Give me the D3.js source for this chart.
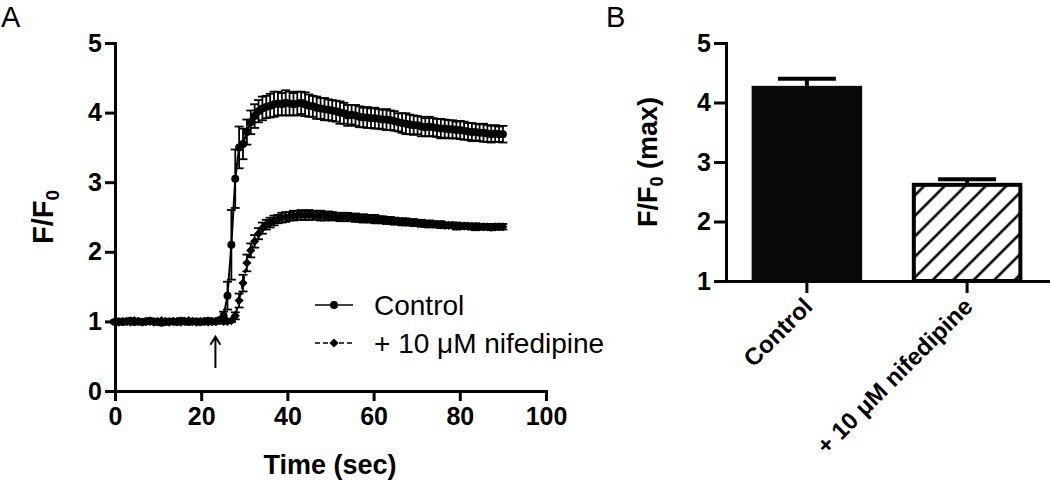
<!DOCTYPE html>
<html>
<head>
<meta charset="utf-8">
<script src="https://cdn.jsdelivr.net/npm/d3@7"></script>
<style>
  body { margin: 0; background: #fff; }
  text { font-family: "Liberation Sans", Arial, Helvetica, sans-serif; fill: #000; }
</style>
</head>
<body>
<svg id="fig" width="1050" height="484"></svg>
<script>
//------------------- Données (panneau A : cinétique F/F0) -------------------

var sampleStep = 0.9; // secondes entre deux images

var controlMean = [
  0.99, 1.00, 0.99, 1.00, 1.01, 0.99, 1.00, 0.99, 1.00, 1.01, 1.00, 0.99, 0.98, 0.99,
  1.00, 1.00, 0.99, 1.01, 1.00, 0.99, 1.00, 1.00, 0.99, 1.00, 1.01, 1.00, 1.00,
  1.02, 1.08, 1.37, 2.10, 3.05, 3.50, 3.55, 3.72, 3.86, 3.95,
  4.02, 4.06, 4.08, 4.10, 4.12, 4.13, 4.12, 4.14, 4.13, 4.12,
  4.13, 4.14, 4.12, 4.10, 4.09, 4.07, 4.06, 4.05, 4.04, 4.03,
  4.02, 4.00, 3.99, 3.96, 3.97, 3.96, 3.94, 3.93, 3.93, 3.92,
  3.92, 3.91, 3.90, 3.90, 3.89, 3.88, 3.86, 3.85, 3.84, 3.83,
  3.82, 3.82, 3.80, 3.79, 3.80, 3.79, 3.78, 3.77, 3.77, 3.76,
  3.76, 3.75, 3.75, 3.74, 3.73, 3.72, 3.72, 3.71, 3.71, 3.70,
  3.69, 3.70, 3.69, 3.69
];
var controlSem = [
  0.02, 0.02, 0.02, 0.03, 0.02, 0.02, 0.02, 0.02, 0.03, 0.02, 0.02, 0.02, 0.03, 0.02,
  0.02, 0.02, 0.02, 0.03, 0.02, 0.02, 0.02, 0.02, 0.02, 0.03, 0.02, 0.02, 0.02,
  0.03, 0.06, 0.20, 0.50, 0.42, 0.30, 0.22, 0.18, 0.17, 0.17,
  0.16, 0.17, 0.16, 0.17, 0.18, 0.17, 0.16, 0.18, 0.17, 0.16,
  0.17, 0.16, 0.17, 0.16, 0.15, 0.16, 0.15, 0.16, 0.15, 0.15,
  0.15, 0.16, 0.15, 0.15, 0.14, 0.15, 0.15, 0.14, 0.15, 0.14,
  0.15, 0.14, 0.14, 0.15, 0.14, 0.14, 0.13, 0.14, 0.15, 0.14,
  0.14, 0.13, 0.14, 0.13, 0.14, 0.13, 0.13, 0.14, 0.13, 0.13,
  0.13, 0.12, 0.13, 0.13, 0.12, 0.13, 0.12, 0.12, 0.13, 0.12,
  0.12, 0.12, 0.11, 0.12
];
var nifMean = [
  1.00, 0.99, 1.00, 1.00, 0.99, 1.01, 1.00, 0.99, 1.00, 1.00, 0.99, 1.00, 1.01, 1.00, 0.99,
  1.00, 1.00, 0.99, 1.00, 1.01, 1.00, 0.99, 1.00, 1.00, 0.99, 1.00, 1.00, 1.01, 1.00, 1.00,
  1.01, 1.08, 1.30, 1.55, 1.84, 2.02, 2.15, 2.26, 2.34, 2.39,
  2.42, 2.45, 2.47, 2.49, 2.50, 2.51, 2.52, 2.52, 2.53, 2.52,
  2.53, 2.52, 2.53, 2.52, 2.51, 2.52, 2.51, 2.51, 2.50, 2.50,
  2.50, 2.49, 2.49, 2.48, 2.48, 2.48, 2.47, 2.47, 2.46, 2.46,
  2.45, 2.45, 2.44, 2.44, 2.43, 2.43, 2.42, 2.42, 2.41, 2.41,
  2.40, 2.40, 2.40, 2.39, 2.39, 2.38, 2.38, 2.38, 2.37, 2.37,
  2.37, 2.37, 2.36, 2.36, 2.36, 2.36, 2.36, 2.35, 2.36, 2.36, 2.36
];
var nifSem = [
  0.02, 0.02, 0.02, 0.02, 0.03, 0.02, 0.02, 0.02, 0.02, 0.02, 0.03, 0.02, 0.02, 0.02, 0.02,
  0.02, 0.03, 0.02, 0.02, 0.02, 0.02, 0.02, 0.03, 0.02, 0.02, 0.02, 0.02, 0.02, 0.03, 0.02,
  0.02, 0.05, 0.10, 0.12, 0.12, 0.10, 0.09, 0.08, 0.08, 0.07,
  0.07, 0.07, 0.06, 0.07, 0.07, 0.06, 0.07, 0.06, 0.07, 0.06,
  0.07, 0.06, 0.06, 0.07, 0.06, 0.06, 0.06, 0.05, 0.06, 0.06,
  0.06, 0.05, 0.06, 0.05, 0.06, 0.05, 0.05, 0.06, 0.05, 0.05,
  0.05, 0.05, 0.05, 0.04, 0.05, 0.05, 0.04, 0.05, 0.04, 0.05,
  0.04, 0.05, 0.04, 0.04, 0.05, 0.04, 0.04, 0.04, 0.05, 0.04,
  0.04, 0.04, 0.04, 0.05, 0.04, 0.04, 0.04, 0.04, 0.04, 0.04, 0.04
];

var seriesNames = ["Control", "+ 10 \u03bcM nifedipine"];
var timeTicks = [0, 20, 40, 60, 80, 100];
var ratioTicksA = [0, 1, 2, 3, 4, 5];
var stimulusTime = 23.3; // flèche d'ajout

//------------------- Données (panneau B : maximum) -------------------

var barGroups = ["Control", "+ 10 \u03bcM nifedipine"];
var barMeans = [4.28, 2.65];
var barSems = [0.12, 0.06];
var ratioTicksB = [1, 2, 3, 4, 5];

//------------------- Mise en place -------------------

var svg = d3.select("#fig");
svg.append("rect").attr("width", 1050).attr("height", 484).attr("fill", "#fff");

function styleAxis(g) {
    g.select(".domain").attr("stroke-width", 3).attr("stroke-linecap", "square");
    g.selectAll(".tick line").attr("stroke-width", 3);
    g.selectAll(".tick text")
        .attr("font-size", 25)
        .attr("font-weight", "bold")
        .attr("font-family", "'Liberation Sans', Arial, sans-serif");
}

// lettres de panneau
svg.append("text").attr("x", 1).attr("y", 27).attr("font-size", 29).text("A");
svg.append("text").attr("x", 606).attr("y", 27).attr("font-size", 29).text("B");

//------------------- Panneau A -------------------

var xA = d3.scaleLinear().domain([0, 100]).range([115, 546]);
var yA = d3.scaleLinear().domain([0, 5]).range([391, 43]);

var times = controlMean.map(function(d, i) { return i * sampleStep; });

var series = [
    { name: seriesNames[0], mean: controlMean, sem: controlSem, marker: "circle", dash: null },
    { name: seriesNames[1], mean: nifMean, sem: nifSem, marker: "diamond", dash: "5,3" }
];

var gA = svg.append("g");

function markerPath(type) {
    if (type == "circle") return d3.symbol(d3.symbolCircle, 50)();
    return d3.symbol(d3.symbolSquare, 42)();
}

series.forEach(function(s) {
    var pts = s.mean.map(function(m, i) { return { t: times[i], m: m, e: s.sem[i] }; });

    var line = d3.line().x(function(d) { return xA(d.t); }).y(function(d) { return yA(d.m); });
    gA.append("path")
        .datum(pts)
        .attr("d", line)
        .attr("fill", "none")
        .attr("stroke", "#000")
        .attr("stroke-width", 2)
        .attr("stroke-dasharray", s.dash);

    // barres d'erreur (SEM)
    var eb = gA.append("g").attr("stroke", "#000").attr("stroke-width", 1.8);
    pts.forEach(function(d) {
        var x = xA(d.t), y1 = yA(d.m - d.e), y2 = yA(d.m + d.e);
        eb.append("line").attr("x1", x).attr("x2", x).attr("y1", y1).attr("y2", y2);
        eb.append("line").attr("x1", x - 4.5).attr("x2", x + 4.5).attr("y1", y1).attr("y2", y1);
        eb.append("line").attr("x1", x - 4.5).attr("x2", x + 4.5).attr("y1", y2).attr("y2", y2);
    });

    gA.append("g").selectAll("path")
        .data(pts)
        .join("path")
        .attr("d", markerPath(s.marker))
        .attr("transform", function(d) {
            return "translate(" + xA(d.t) + "," + yA(d.m) + ")" + (s.marker == "diamond" ? " rotate(45)" : "");
        })
        .attr("fill", "#000");
});

// axes
svg.append("g")
    .attr("transform", "translate(0," + yA(0) + ")")
    .call(d3.axisBottom(xA).tickValues(timeTicks).tickFormat(d3.format("d")).tickSize(10).tickSizeOuter(0).tickPadding(6))
    .call(styleAxis);

svg.append("g")
    .attr("transform", "translate(" + xA(0) + ",0)")
    .call(d3.axisLeft(yA).tickValues(ratioTicksA).tickFormat(d3.format("d")).tickSize(10).tickSizeOuter(0).tickPadding(3))
    .call(styleAxis);

svg.append("text")
    .attr("x", 330).attr("y", 474)
    .attr("text-anchor", "middle")
    .attr("font-size", 27).attr("font-weight", "bold")
    .text("Time (sec)");

var labA = svg.append("text")
    .attr("transform", "translate(53,217) rotate(-90)")
    .attr("text-anchor", "middle")
    .attr("font-size", 29).attr("font-weight", "bold");
labA.append("tspan").text("F/F");
labA.append("tspan").attr("font-size", 19).attr("dy", 6).text("0");

// flèche (ajout du stimulus)
var ax = xA(stimulusTime);
svg.append("path")
    .attr("d", "M" + ax + "," + yA(0.33) + "V" + yA(0.78) +
        "M" + (ax - 5) + "," + (yA(0.78) + 8) + "L" + ax + "," + yA(0.78) + "L" + (ax + 5) + "," + (yA(0.78) + 8))
    .attr("fill", "none")
    .attr("stroke", "#000")
    .attr("stroke-width", 2);

// légende
var leg = svg.append("g");
series.forEach(function(s, i) {
    var ly = 305 + i * 38;
    leg.append("line")
        .attr("x1", 315).attr("x2", 353).attr("y1", ly).attr("y2", ly)
        .attr("stroke", "#000").attr("stroke-width", 1.5)
        .attr("stroke-dasharray", s.dash);
    leg.append("path")
        .attr("d", markerPath(s.marker))
        .attr("transform", "translate(334," + ly + ")" + (s.marker == "diamond" ? " rotate(45)" : ""))
        .attr("fill", "#000");
    leg.append("text")
        .attr("x", 374).attr("y", ly + 10)
        .attr("font-size", 28)
        .text(s.name);
});

//------------------- Panneau B -------------------

var xB = d3.scaleBand().domain(barGroups).range([726, 1048]).paddingInner(0.31).paddingOuter(0.16);
var yB = d3.scaleLinear().domain([1, 5]).range([281, 43]);

var defs = svg.append("defs");
defs.append("pattern")
    .attr("id", "hachures")
    .attr("patternUnits", "userSpaceOnUse")
    .attr("width", 14.5).attr("height", 14.5)
    .attr("patternTransform", "rotate(45)")
    .append("line")
    .attr("x1", 2).attr("x2", 2).attr("y1", 0).attr("y2", 14.5)
    .attr("stroke", "#000").attr("stroke-width", 2.6);

var gB = svg.append("g");
var bars = barGroups.map(function(g, i) { return { g: g, m: barMeans[i], e: barSems[i], i: i }; });

// barres d'erreur (vers le haut seulement)
bars.forEach(function(d) {
    var cx = xB(d.g) + xB.bandwidth() / 2;
    gB.append("line")
        .attr("x1", cx).attr("x2", cx).attr("y1", yB(d.m)).attr("y2", yB(d.m + d.e))
        .attr("stroke", "#000").attr("stroke-width", 4);
    gB.append("line")
        .attr("x1", cx - 29).attr("x2", cx + 29).attr("y1", yB(d.m + d.e)).attr("y2", yB(d.m + d.e))
        .attr("stroke", "#000").attr("stroke-width", 4);
});

bars.forEach(function(d) {
    if (d.i == 0) {
        gB.append("rect")
            .attr("x", xB(d.g)).attr("width", xB.bandwidth())
            .attr("y", yB(d.m)).attr("height", yB(1) - yB(d.m))
            .attr("fill", "#0a0a0a");
    } else {
        gB.append("rect")
            .attr("x", xB(d.g) + 2).attr("width", xB.bandwidth() - 4)
            .attr("y", yB(d.m) + 2).attr("height", yB(1) - yB(d.m) - 2)
            .attr("fill", "#fff");
        gB.append("rect")
            .attr("x", xB(d.g) + 2).attr("width", xB.bandwidth() - 4)
            .attr("y", yB(d.m) + 2).attr("height", yB(1) - yB(d.m) - 2)
            .attr("fill", "url(#hachures)")
            .attr("stroke", "#000").attr("stroke-width", 4);
    }
});

var axB = svg.append("g")
    .attr("transform", "translate(0," + yB(1) + ")")
    .call(d3.axisBottom(xB).tickSize(12).tickSizeOuter(0))
    .call(styleAxis);
axB.selectAll(".tick text")
    .attr("font-size", 24)
    .attr("x", 0).attr("y", 0).attr("dy", 0)
    .attr("text-anchor", "end")
    .attr("transform", "translate(7,27) rotate(-45)");

svg.append("g")
    .attr("transform", "translate(" + xB.range()[0] + ",0)")
    .call(d3.axisLeft(yB).tickValues(ratioTicksB).tickFormat(d3.format("d")).tickSize(12).tickSizeOuter(0).tickPadding(3))
    .call(styleAxis);

var labB = svg.append("text")
    .attr("transform", "translate(657,162) rotate(-90)")
    .attr("text-anchor", "middle")
    .attr("font-size", 27).attr("font-weight", "bold");
labB.append("tspan").text("F/F");
labB.append("tspan").attr("font-size", 18).attr("dy", 6).text("0");
labB.append("tspan").attr("dy", -6).text(" (max)");
</script>
</body>
</html>
